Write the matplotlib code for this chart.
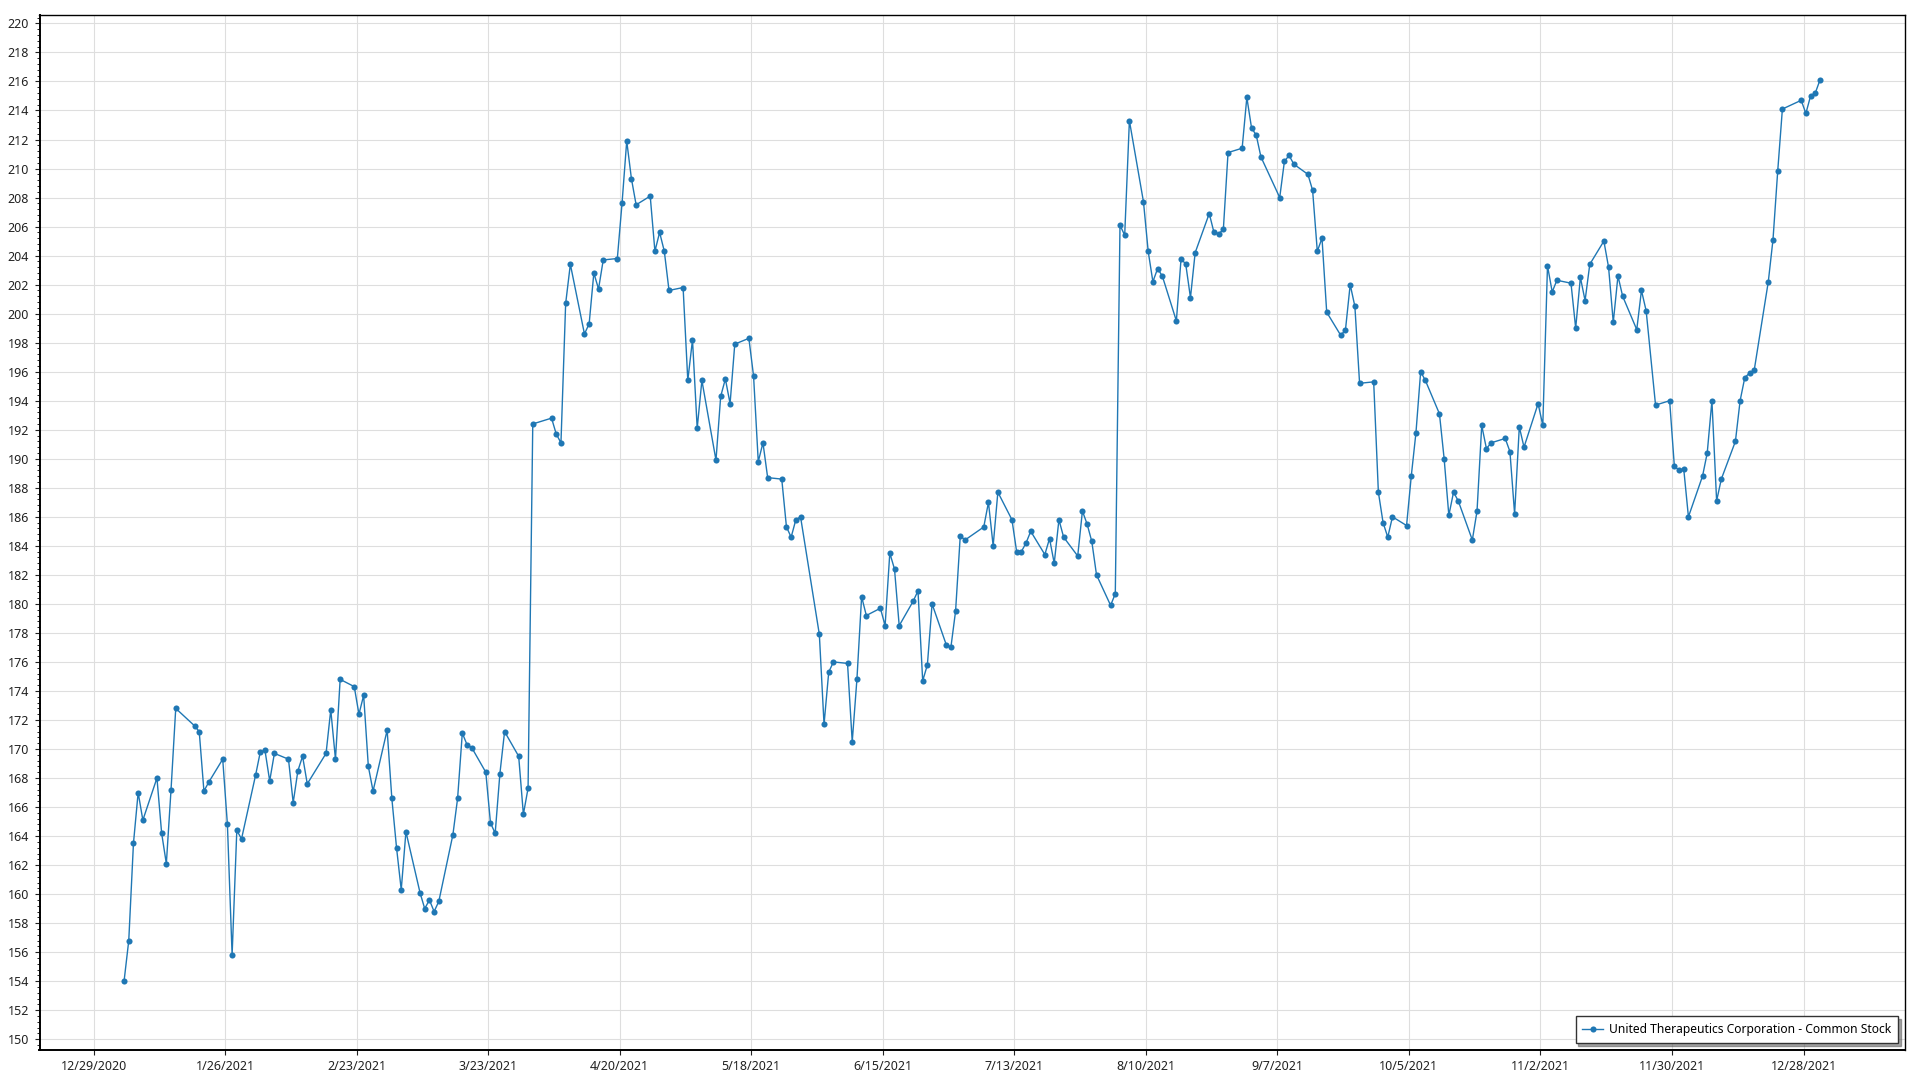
import numpy as np
import pandas as pd
import matplotlib
matplotlib.use("Agg")
import matplotlib.pyplot as plt
import matplotlib.dates as mdates
from matplotlib.ticker import MultipleLocator, FuncFormatter

plt.rcParams['font.family'] = ['Noto Sans', 'DejaVu Sans']

# NYSE holidays 2021 (trading days are the remaining weekdays)
holidays = ["2021-01-18", "2021-02-15", "2021-04-02", "2021-05-31",
            "2021-07-05", "2021-09-06", "2021-11-25", "2021-12-24"]

# daily close, month by month
jan = [154.0, 156.8, 163.5, 167.0, 165.1, 168.0, 164.2, 162.1, 167.2, 172.8,
       171.6, 171.2, 167.1, 167.7, 169.3, 164.8, 155.8, 164.4, 163.8]
feb = [168.2, 169.8, 169.9, 167.8, 169.7, 169.3, 166.3, 168.5, 169.5, 167.6,
       169.7, 172.7, 169.3, 174.8, 174.3, 172.4, 173.7, 168.8, 167.1]
mar = [171.3, 166.6, 163.2, 160.3, 164.3, 160.1, 159.0, 159.6, 158.8, 159.5,
       164.1, 166.6, 171.1, 170.3, 170.1, 168.4, 164.9, 164.2, 168.3, 171.2,
       169.5, 165.5, 167.3]
apr = [192.4, 192.8, 191.7, 191.1, 200.7, 203.4, 198.6, 199.3, 202.8, 201.7,
       203.7, 203.8, 207.6, 211.9, 209.3, 207.5, 208.1, 204.3, 205.6, 204.3,
       201.6]
may = [201.8, 195.4, 198.2, 192.1, 195.4, 189.9, 194.3, 195.5, 193.8, 197.9,
       198.3, 195.7, 189.8, 191.1, 188.7, 188.6, 185.3, 184.6, 185.8, 186.0]
jun = [177.9, 171.7, 175.3, 176.0, 175.9, 170.5, 174.8, 180.5, 179.2, 179.7,
       178.5, 183.5, 182.4, 178.5, 180.2, 180.9, 174.7, 175.8, 180.0, 177.2,
       177.0, 179.5]
jul = [184.7, 184.4, 185.3, 187.0, 184.0, 187.7, 185.8, 183.6, 183.6, 184.2,
       185.0, 183.4, 184.5, 182.8, 185.8, 184.6, 183.3, 186.4, 185.5, 184.3,
       182.0]
aug = [179.9, 180.7, 206.1, 205.4, 213.3, 207.7, 204.3, 202.2, 203.1, 202.6,
       199.5, 203.8, 203.4, 201.1, 204.2, 206.9, 205.6, 205.5, 205.8, 211.1,
       211.4, 214.9]
sep = [212.8, 212.3, 210.8, 208.0, 210.5, 210.9, 210.3, 209.6, 208.5, 204.3,
       205.2, 200.1, 198.5, 198.9, 202.0, 200.5, 195.2, 195.3, 187.7, 185.6,
       184.6]
oct = [186.0, 185.4, 188.8, 191.8, 196.0, 195.4, 193.1, 190.0, 186.1, 187.7,
       187.1, 184.4, 186.4, 192.3, 190.7, 191.1, 191.4, 190.5, 186.2, 192.2,
       190.8]
nov = [193.8, 192.3, 203.3, 201.5, 202.3, 202.1, 199.0, 202.5, 200.9, 203.4,
       205.0, 203.2, 199.4, 202.6, 201.2, 198.9, 201.6, 200.2, 193.7, 194.0,
       189.5]
dec = [189.2, 189.3, 186.0, 188.8, 190.4, 194.0, 187.1, 188.6, 191.2, 194.0,
       195.6, 195.9, 196.1, 202.2, 205.1, 209.8, 214.1, 214.7, 213.8, 215.0,
       215.2, 216.1]

closes = jan + feb + mar + apr + may + jun + jul + aug + sep + oct + nov + dec
dates = pd.bdate_range("2021-01-04", "2021-12-31", freq="C", holidays=holidays)
# points sit around midday of each trading day
x = dates + pd.Timedelta(hours=12)

series_name = "United Therapeutics Corporation - Common Stock"
tick_dates = pd.date_range("2020-12-29", periods=14, freq="28D")

fig = plt.figure(figsize=(19.2, 10.8), dpi=100)
ax = fig.add_axes([39.5 / 1920, 30 / 1080, (1905 - 39.5) / 1920, (1065.3 - 30) / 1080])

ax.plot(x, closes, color="#1f77b4", linewidth=1.0, marker="o", markersize=4.4,
        markeredgewidth=0, label=series_name, zorder=3)

ax.set_xlim(tick_dates[0] - pd.Timedelta(days=11.5), tick_dates[-1] + pd.Timedelta(days=21.6))
ax.set_ylim(149.26, 220.6)

ax.set_xticks(tick_dates)
ax.xaxis.set_major_formatter(FuncFormatter(
    lambda v, pos: (lambda d: f"{d.month}/{d.day}/{d.year}")(mdates.num2date(v))))
ax.yaxis.set_major_locator(MultipleLocator(2))
ax.yaxis.set_minor_locator(MultipleLocator(0.4))

ax.grid(True, which="major", color="#dedede", linewidth=0.8, zorder=0)
ax.set_axisbelow(True)

ax.tick_params(axis="both", which="major", direction="out", length=3.5, width=0.8,
               labelsize=9, colors="#222222", pad=4)
ax.tick_params(axis="y", which="minor", direction="out", length=2, width=0.7, color="#222222")

for side in ["top", "right"]:
    ax.spines[side].set_linewidth(1.0)
    ax.spines[side].set_color("black")
for side in ["left", "bottom"]:
    ax.spines[side].set_linewidth(1.4)
    ax.spines[side].set_color("black")

leg = ax.legend(loc="lower right", fontsize=8.7, frameon=True, fancybox=False, shadow=True,
                borderaxespad=0.6, handlelength=1.7, handletextpad=0.5, borderpad=0.55)
leg.get_frame().set_edgecolor("#333333")
leg.get_frame().set_linewidth(1.0)

fig.savefig("out.png", dpi=100)
